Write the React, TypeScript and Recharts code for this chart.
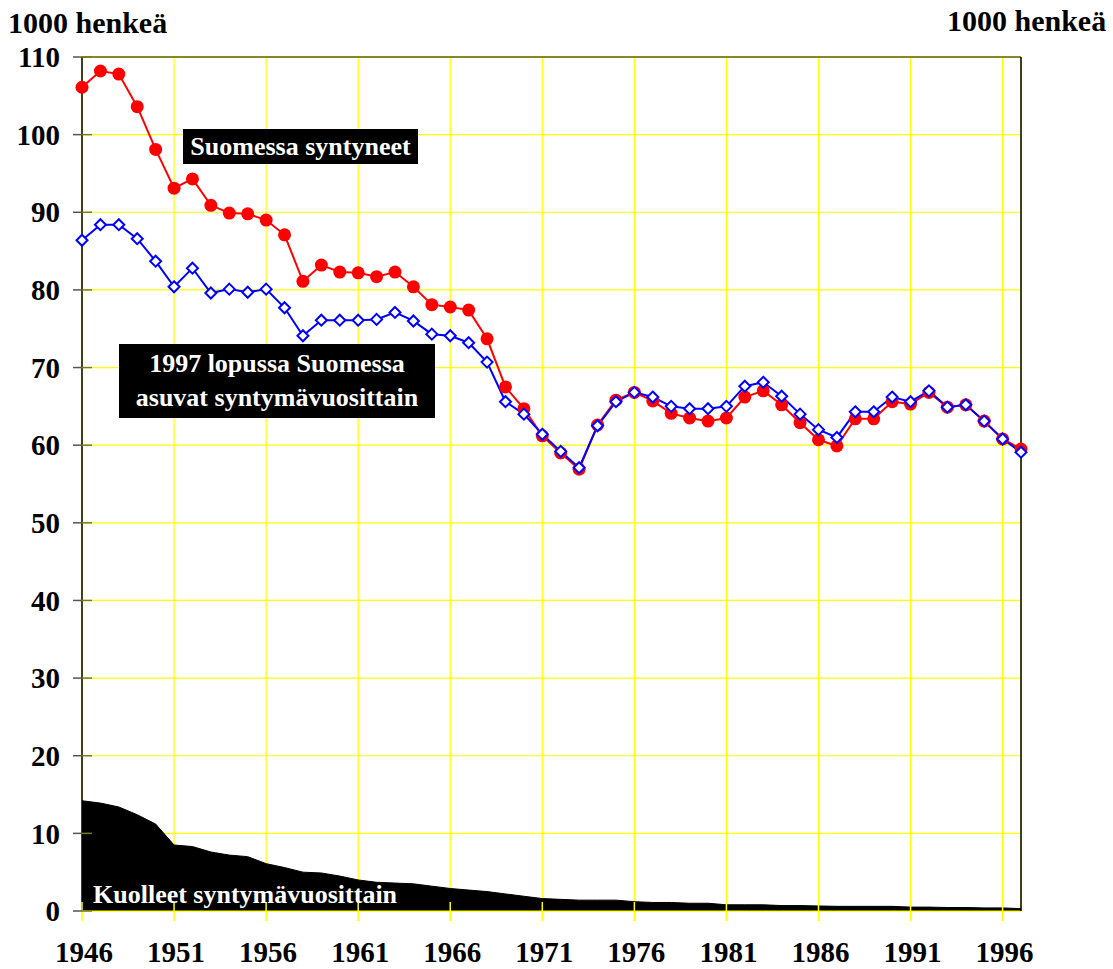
import {
  ComposedChart,
  Line,
  Area,
  XAxis,
  YAxis,
  CartesianGrid,
  ReferenceLine
} from 'recharts';

// vuodet 1946-1997
const vuodet = [
  1946, 1947, 1948, 1949, 1950, 1951, 1952, 1953, 1954, 1955, 1956, 1957, 1958,
  1959, 1960, 1961, 1962, 1963, 1964, 1965, 1966, 1967, 1968, 1969, 1970, 1971,
  1972, 1973, 1974, 1975, 1976, 1977, 1978, 1979, 1980, 1981, 1982, 1983, 1984,
  1985, 1986, 1987, 1988, 1989, 1990, 1991, 1992, 1993, 1994, 1995, 1996, 1997
];

// Suomessa syntyneet (1000 henkeä)
const syntyneet = [
  106.1, 108.2, 107.8, 103.6, 98.1, 93.1, 94.3, 90.9, 89.9, 89.8, 89.0, 87.1, 81.1,
  83.2, 82.3, 82.2, 81.7, 82.3, 80.4, 78.1, 77.8, 77.4, 73.7, 67.5, 64.7, 61.2,
  59.0, 56.9, 62.6, 65.8, 66.8, 65.7, 64.1, 63.5, 63.1, 63.5, 66.2, 67.0, 65.2,
  62.9, 60.7, 59.9, 63.4, 63.4, 65.6, 65.3, 66.8, 64.9, 65.2, 63.1, 60.8, 59.5
];

// 1997 lopussa Suomessa asuvat syntymävuosittain
const asuvat = [
  86.4, 88.4, 88.4, 86.6, 83.7, 80.4, 82.8, 79.6, 80.1, 79.7, 80.1, 77.7, 74.1,
  76.1, 76.1, 76.1, 76.2, 77.1, 76.0, 74.3, 74.1, 73.2, 70.7, 65.6, 64.0, 61.4,
  59.2, 57.1, 62.5, 65.6, 66.8, 66.2, 65.0, 64.7, 64.7, 65.0, 67.6, 68.1, 66.3,
  64.0, 62.0, 61.0, 64.3, 64.3, 66.2, 65.6, 67.0, 64.9, 65.2, 63.1, 60.8, 59.1
];

// Kuolleet syntymävuosittain
const kuolleet = [
  14.2, 13.9, 13.4, 12.4, 11.2, 8.5, 8.3, 7.6, 7.2, 7.0, 6.1, 5.6, 5.0,
  4.9, 4.5, 4.0, 3.7, 3.6, 3.5, 3.2, 2.9, 2.7, 2.5, 2.2, 1.9, 1.6,
  1.5, 1.4, 1.4, 1.4, 1.2, 1.1, 1.1, 1.0, 1.0, 0.8, 0.8, 0.8, 0.7,
  0.7, 0.65, 0.6, 0.6, 0.6, 0.6, 0.5, 0.5, 0.45, 0.45, 0.4, 0.4, 0.3
];

const xTicks = [1946, 1951, 1956, 1961, 1966, 1971, 1976, 1981, 1986, 1991, 1996];
const yTicks = [0, 10, 20, 30, 40, 50, 60, 70, 80, 90, 100, 110];

const data = vuodet.map((v, i) => ({
  vuosi: v,
  syntyneet: syntyneet[i],
  asuvat: asuvat[i],
  kuolleet: kuolleet[i]
}));

const fontti = "'Liberation Serif', 'Times New Roman', Times, serif";

const LeftTick = (props: any) => {
  const { x, y, payload } = props;
  return (
    <g>
      <line x1={x - 9} x2={x} y1={y} y2={y} stroke="#555" strokeWidth={1.5} />
      <line x1={x} x2={x + 10} y1={y} y2={y} stroke="#7a7a20" strokeWidth={1.5} />
      <text x={x - 22} y={y} dy="0.35em" textAnchor="end" fontFamily={fontti} fontWeight="bold" fontSize={29} fill="#000">
        {payload.value}
      </text>
    </g>
  );
};

const RightTick = (props: any) => {
  const { x, y, payload } = props;
  return (
    <g>
      <line x1={x - 10} x2={x + 10} y1={y} y2={y} stroke="#222" strokeWidth={1.5} />
      <text x={x + 22} y={y} dy="0.35em" textAnchor="start" fontFamily={fontti} fontWeight="bold" fontSize={29} fill="#000">
        {payload.value}
      </text>
    </g>
  );
};

const BottomTick = (props: any) => {
  const { x, y, payload } = props;
  return (
    <g>
      <line x1={x} x2={x} y1={y - 9} y2={y + 10} stroke="#ffff00" strokeWidth={1.5} />
      <text x={x + 2} y={y + 51} textAnchor="middle" fontFamily={fontti} fontWeight="bold" fontSize={29} fill="#000">
        {payload.value}
      </text>
    </g>
  );
};

const Timantti = (props: any) => {
  const { cx, cy, index } = props;
  const s = 5.5;
  return (
    <polygon
      key={'d' + index}
      points={`${cx},${cy - s} ${cx + s},${cy} ${cx},${cy + s} ${cx - s},${cy}`}
      fill="#fff"
      stroke="#0000ff"
      strokeWidth={2}
    />
  );
};

const laatikko: React.CSSProperties = {
  position: 'absolute',
  background: '#000',
  color: '#fff',
  fontFamily: fontti,
  fontWeight: 'bold',
  fontSize: 26,
  textAlign: 'center',
  boxSizing: 'border-box'
};

export default function App() {
  return (
    <div style={{ position: 'absolute', left: 0, top: 0, width: 1113, height: 969, background: '#fff' }}>
      <ComposedChart width={1113} height={969} data={data} margin={{ top: 57, right: 0, bottom: 0, left: 0 }}>
        <CartesianGrid stroke="#ffff00" strokeWidth={1.2} />
        <XAxis
          dataKey="vuosi"
          type="number"
          domain={[1946, 1997]}
          ticks={xTicks}
          height={58}
          tickSize={0}
          tickMargin={0}
          tickLine={false}
          axisLine={{ stroke: '#ffff00' }}
          tick={<BottomTick />}
          interval={0}
        />
        <YAxis
          domain={[0, 110]}
          ticks={yTicks}
          width={82}
          tickSize={0}
          tickMargin={0}
          tickLine={false}
          axisLine={{ stroke: '#000', strokeWidth: 1.5 }}
          tick={<LeftTick />}
          interval={0}
        />
        <YAxis
          yAxisId="right"
          orientation="right"
          domain={[0, 110]}
          ticks={yTicks}
          width={92}
          tickSize={0}
          tickMargin={0}
          tickLine={false}
          axisLine={{ stroke: '#000', strokeWidth: 1.5 }}
          tick={<RightTick />}
          interval={0}
        />
        <ReferenceLine y={110} stroke="#86862a" strokeWidth={2} />
        <Area
          type="linear"
          dataKey="kuolleet"
          stroke="#000"
          fill="#000"
          fillOpacity={1}
          isAnimationActive={false}
        />
        <Line
          type="linear"
          dataKey="syntyneet"
          stroke="#ff0000"
          strokeWidth={2}
          dot={{ r: 6.5, fill: '#ff0000', stroke: '#ff0000', strokeWidth: 0 }}
          activeDot={false}
          isAnimationActive={false}
        />
        <Line
          type="linear"
          dataKey="asuvat"
          stroke="#0000ff"
          strokeWidth={2}
          dot={Timantti}
          activeDot={false}
          isAnimationActive={false}
        />
      </ComposedChart>

      <div style={{ position: 'absolute', left: 8, top: 6, fontFamily: fontti, fontWeight: 'bold', fontSize: 30, lineHeight: '34px' }}>
        1000 henkeä
      </div>
      <div style={{ position: 'absolute', left: 947, top: 4, fontFamily: fontti, fontWeight: 'bold', fontSize: 30, lineHeight: '34px' }}>
        1000 henkeä
      </div>

      <div style={{ ...laatikko, left: 183, top: 129, width: 235, height: 35, lineHeight: '35px' }}>
        Suomessa syntyneet
      </div>
      <div style={{ ...laatikko, left: 119, top: 344, width: 316, height: 74, lineHeight: '34px', paddingTop: 3 }}>
        1997 lopussa Suomessa
        <br />
        asuvat syntymävuosittain
      </div>
      <div style={{ position: 'absolute', left: 93, top: 880, color: '#fff', fontFamily: fontti, fontWeight: 'bold', fontSize: 26, lineHeight: '30px' }}>
        Kuolleet syntymävuosittain
      </div>
    </div>
  );
}
